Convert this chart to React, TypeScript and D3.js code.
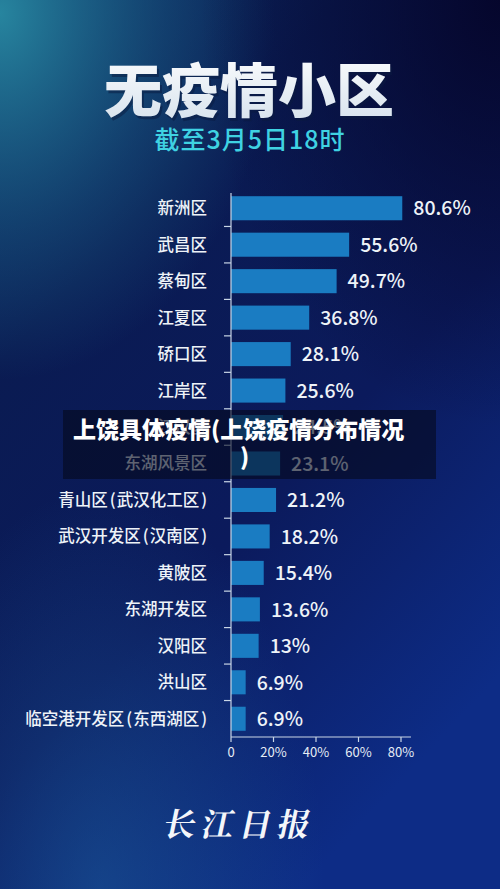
import React from "react";
import * as d3 from "d3";

const categories = [
  "新洲区", "武昌区", "蔡甸区", "江夏区", "硚口区", "江岸区", "江汉区",
  "东湖风景区", "青山区(武汉化工区)", "武汉开发区(汉南区)", "黄陂区",
  "东湖开发区", "汉阳区", "洪山区", "临空港开发区(东西湖区)",
];
const values = [80.6, 55.6, 49.7, 36.8, 28.1, 25.6, 24.5, 23.1, 21.2, 18.2, 15.4, 13.6, 13, 6.9, 6.9];
const valueLabels = ["80.6%", "55.6%", "49.7%", "36.8%", "28.1%", "25.6%", "24.5%", "23.1%", "21.2%", "18.2%", "15.4%", "13.6%", "13%", "6.9%", "6.9%"];
const xTicks = [0, 20, 40, 60, 80];
const title = "无疫情小区";
const subtitle = "截至3月5日18时";
const overlayLine1 = "上饶具体疫情(上饶疫情分布情况";
const overlayLine2 = ")";
const logo = "长江日报";

const W = 500, H = 889;
const FONT = "'Noto Sans CJK SC', 'Noto Sans', sans-serif";

function Label({ text }: { text: string }) {
  const m = text.match(/^(.*)\((.*)\)$/);
  if (!m) return <>{text}</>;
  return (
    <>
      <tspan>{m[1]}</tspan>
      <tspan dx={2}>(</tspan>
      <tspan dx={1}>{m[2]}</tspan>
      <tspan dx={2}>)</tspan>
    </>
  );
}

export default function App() {
  const x = d3.scaleLinear().domain([0, 80]).range([231, 401]);
  const y = d3.scaleBand<string>().domain(categories).range([190, 737]).paddingInner(0.34).paddingOuter(0.17);
  const bw = y.bandwidth();
  const step = y.step();

  return (
    <svg width={W} height={H} style={{ position: "absolute", left: 0, top: 0, display: "block" }}>
      <defs>
        <linearGradient id="bg" x1="0" y1="0" x2="0.6" y2="1">
          <stop offset="0" stopColor="#0b2a5e" />
          <stop offset="0.3" stopColor="#0a1b52" />
          <stop offset="0.65" stopColor="#0b1a5c" />
          <stop offset="1" stopColor="#0d2c86" />
        </linearGradient>
        <radialGradient id="glow" cx="0" cy="0.02" r="0.55" gradientTransform="scale(1,0.75)">
          <stop offset="0" stopColor="#2a8fa6" stopOpacity="0.9" />
          <stop offset="0.6" stopColor="#1d6a8f" stopOpacity="0.4" />
          <stop offset="1" stopColor="#1d6a8f" stopOpacity="0" />
        </radialGradient>
        <radialGradient id="dark" cx="1" cy="0" r="0.6" gradientTransform="scale(1,0.8)">
          <stop offset="0" stopColor="#05052a" stopOpacity="0.95" />
          <stop offset="1" stopColor="#05052a" stopOpacity="0" />
        </radialGradient>
        <radialGradient id="glow2" cx="0.2" cy="1" r="0.45">
          <stop offset="0" stopColor="#1f6aa8" stopOpacity="0.45" />
          <stop offset="1" stopColor="#1f6aa8" stopOpacity="0" />
        </radialGradient>
        <linearGradient id="titleGrad" x1="0" y1="0" x2="0" y2="1">
          <stop offset="0" stopColor="#ffffff" />
          <stop offset="1" stopColor="#d4e0ec" />
        </linearGradient>
      </defs>
      <rect x={0} y={0} width={W} height={H} fill="url(#bg)" />
      <rect x={0} y={0} width={W} height={H} fill="url(#glow)" />
      <rect x={0} y={0} width={W} height={H} fill="url(#dark)" />
      <rect x={0} y={0} width={W} height={H} fill="url(#glow2)" />

      <text x={249} y={112} textAnchor="middle" fontFamily={FONT} fontWeight={900} fontSize={58}
        fill="#0a1a40" opacity={0.5} transform="translate(2,3)">{title}</text>
      <text x={249} y={112} textAnchor="middle" fontFamily={FONT} fontWeight={900} fontSize={58}
        fill="url(#titleGrad)">{title}</text>
      <text x={250} y={149} textAnchor="middle" fontFamily={FONT} fontWeight={500} fontSize={25}
        letterSpacing={1} fill="#3fd2e2">{subtitle}</text>

      {categories.map((c, i) => {
        const yy = y(c)!;
        return (
          <g key={c}>
            <rect x={x(0)} y={yy} width={x(values[i]) - x(0)} height={bw} fill="#1a7cc2" />
            <text x={207} y={yy + bw / 2} dy="0.36em" textAnchor="end" fontFamily={FONT}
              fontWeight={500} fontSize={16.5} fill="#eef3f8"><Label text={c} /></text>
            <text x={x(values[i]) + 11} y={yy + bw / 2} dy="0.37em" fontFamily={FONT}
              fontWeight={500} fontSize={19.5} fill="#eef3f8">{valueLabels[i]}</text>
          </g>
        );
      })}

      {/* y axis */}
      <line x1={x(0)} x2={x(0)} y1={193} y2={737} stroke="#c9d6e6" strokeWidth={1.2} />
      {categories.slice(1).map((c) => {
        const ty = y(c)! - (step - bw) / 2;
        return <line key={"t" + c} x1={x(0) - 7} x2={x(0)} y1={ty} y2={ty} stroke="#c9d6e6" strokeWidth={1.2} />;
      })}
      {/* x axis */}
      <line x1={x(0)} x2={411} y1={737} y2={737} stroke="#c9d6e6" strokeWidth={1.2} />
      {xTicks.map((t) => (
        <g key={"x" + t}>
          <line x1={x(t)} x2={x(t)} y1={737} y2={742} stroke="#c9d6e6" strokeWidth={1.2} />
          <text x={x(t)} y={752} dy="0.36em" textAnchor="middle" fontFamily={FONT} fontSize={13}
            fill="#e6edf5">{t === 0 ? "0" : t + "%"}</text>
        </g>
      ))}

      {/* overlay */}
      <rect x={63} y={410} width={373} height={69} fill="#050a1e" opacity={0.62} />
      <text x={73} y={438} fontFamily={FONT} fontWeight={900} fontSize={23} fill="#ffffff">{overlayLine1}</text>
      <text x={240} y={465} fontFamily={FONT} fontWeight={900} fontSize={23} fill="#ffffff">{overlayLine2}</text>

      {/* logo */}
      <text x={240} y={836} textAnchor="middle" fontFamily="'Noto Serif CJK SC', 'Noto Sans CJK SC', serif"
        fontWeight={700} fontSize={32} fill="#f4f6fa" letterSpacing={6}
        transform="translate(240,825) skewX(-12) translate(-240,-825)">{logo}</text>
    </svg>
  );
}
